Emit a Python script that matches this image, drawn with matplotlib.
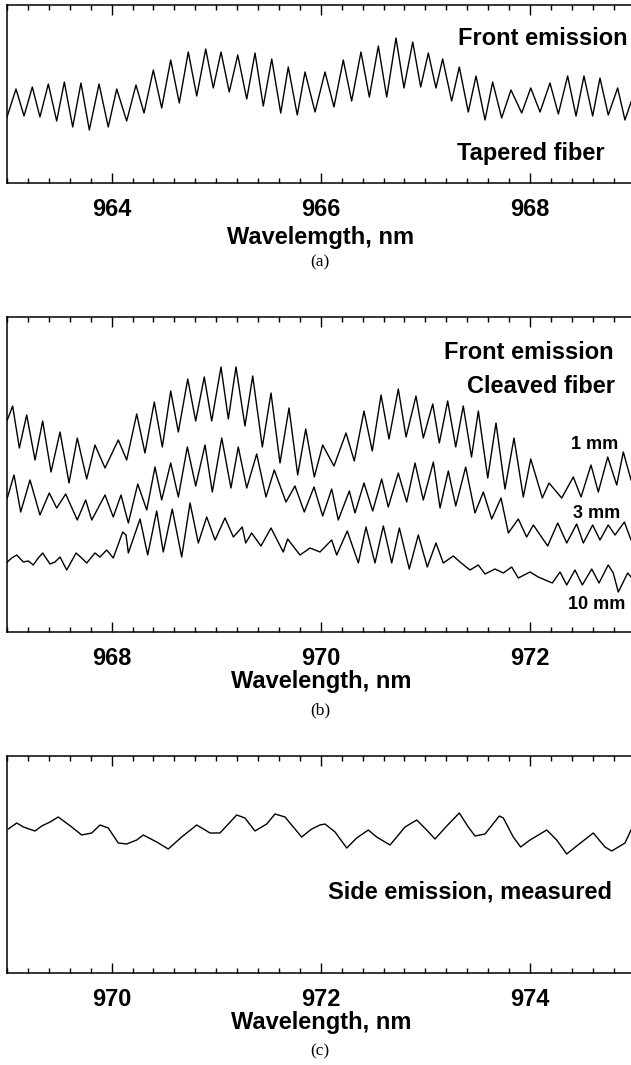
import numpy as np
import matplotlib
matplotlib.use('Agg')
import matplotlib.pyplot as plt
from matplotlib.ticker import MultipleLocator

# (a) front emission, tapered fiber -- wavelength (nm) and intensity (a.u.)
wl_a = [963.000, 963.086, 963.163, 963.242, 963.315, 963.395, 963.475, 963.548, 963.628, 963.707,
        963.787, 963.880, 963.968, 964.049, 964.144, 964.233, 964.310, 964.399, 964.479, 964.565,
        964.647, 964.733, 964.814, 964.900, 964.972, 965.046, 965.125, 965.206, 965.292, 965.371,
        965.450, 965.531, 965.617, 965.689, 965.775, 965.849, 965.945, 966.040, 966.126, 966.215,
        966.295, 966.384, 966.464, 966.550, 966.630, 966.719, 966.795, 966.879, 966.955, 967.028,
        967.101, 967.165, 967.251, 967.324, 967.410, 967.484, 967.570, 967.643, 967.729, 967.818,
        967.921, 968.007, 968.096, 968.191, 968.271, 968.360, 968.440, 968.516, 968.599, 968.669,
        968.748, 968.838, 968.908, 968.966]
int_a = [66, 94, 67, 96, 66, 99, 62, 101, 56, 100, 53, 99, 56, 94, 62, 98, 70, 113, 75, 123,
         80, 131, 87, 134, 95, 131, 91, 128, 84, 130, 77, 124, 70, 116, 68, 111, 71, 111, 76, 123,
         82, 131, 86, 137, 86, 145, 95, 141, 96, 130, 95, 124, 82, 116, 71, 107, 63, 101, 65, 93,
         70, 95, 71, 100, 69, 107, 67, 107, 67, 105, 68, 95, 63, 81]

# (b) front emission, cleaved fiber at 1, 3 and 10 mm
wl_1mm = [967.003, 967.054, 967.118, 967.188, 967.268, 967.341, 967.421, 967.507, 967.593, 967.672,
          967.762, 967.841, 967.937, 968.064, 968.144, 968.240, 968.319, 968.408, 968.485, 968.565,
          968.638, 968.728, 968.804, 968.886, 968.957, 969.046, 969.116, 969.189, 969.275, 969.349,
          969.441, 969.524, 969.610, 969.696, 969.779, 969.856, 969.938, 970.018, 970.126, 970.241,
          970.320, 970.413, 970.492, 970.576, 970.652, 970.741, 970.815, 970.910, 970.980, 971.070,
          971.133, 971.213, 971.290, 971.362, 971.441, 971.506, 971.596, 971.675, 971.761, 971.847,
          971.936, 972.007, 972.118, 972.182, 972.303, 972.414, 972.488, 972.583, 972.653, 972.743,
          972.829, 972.892, 972.966]
int_1mm = [212, 226, 184, 217, 172, 211, 160, 200, 149, 194, 153, 187, 164, 192, 172, 218, 179, 230,
           185, 241, 200, 253, 211, 255, 211, 265, 213, 265, 206, 256, 185, 239, 169, 224, 157, 203,
           155, 187, 166, 199, 171, 221, 181, 237, 193, 243, 195, 236, 194, 228, 189, 231, 185, 226,
           175, 221, 154, 209, 143, 194, 135, 173, 134, 149, 134, 155, 135, 167, 140, 175, 147, 180, 152]

wl_3mm = [967.003, 967.067, 967.131, 967.220, 967.315, 967.404, 967.475, 967.561, 967.672, 967.752,
          967.810, 967.937, 968.016, 968.090, 968.160, 968.250, 968.336, 968.415, 968.479, 968.565,
          968.638, 968.724, 968.804, 968.893, 968.963, 969.053, 969.141, 969.211, 969.292, 969.387,
          969.476, 969.555, 969.667, 969.753, 969.842, 969.935, 970.018, 970.104, 970.167, 970.273,
          970.327, 970.413, 970.496, 970.582, 970.645, 970.741, 970.821, 970.901, 970.980, 971.076,
          971.140, 971.219, 971.290, 971.385, 971.474, 971.554, 971.634, 971.723, 971.793, 971.888,
          971.968, 972.032, 972.169, 972.265, 972.351, 972.446, 972.510, 972.599, 972.669, 972.748,
          972.813, 972.902, 972.966]
int_3mm = [134, 157, 120, 152, 117, 139, 124, 138, 112, 132, 112, 137, 115, 137, 109, 148, 122, 165,
           132, 169, 135, 185, 146, 187, 140, 194, 144, 185, 144, 178, 135, 162, 130, 146, 120, 145,
           116, 143, 112, 141, 119, 149, 121, 153, 125, 159, 130, 169, 132, 170, 124, 161, 126, 165,
           119, 140, 113, 134, 99, 113, 95, 107, 86, 109, 89, 108, 89, 107, 92, 107, 97, 110, 92]

wl_10mm = [967.003, 967.045, 967.093, 967.156, 967.204, 967.251, 967.299, 967.341, 967.411, 967.459,
           967.507, 967.571, 967.660, 967.714, 967.762, 967.841, 967.889, 967.953, 968.016, 968.106,
           968.138, 968.160, 968.272, 968.345, 968.431, 968.494, 968.580, 968.670, 968.750, 968.829,
           968.909, 968.989, 969.084, 969.164, 969.249, 969.282, 969.339, 969.428, 969.524, 969.641,
           969.683, 969.801, 969.897, 969.992, 970.104, 970.152, 970.253, 970.359, 970.432, 970.518,
           970.598, 970.678, 970.751, 970.846, 970.932, 971.018, 971.101, 971.171, 971.267, 971.331,
           971.426, 971.506, 971.570, 971.665, 971.745, 971.825, 971.888, 972.000, 972.079, 972.213,
           972.287, 972.351, 972.430, 972.500, 972.590, 972.660, 972.748, 972.796, 972.844, 972.934,
           972.966]
int_10mm = [70, 74, 77, 70, 71, 67, 74, 79, 68, 70, 75, 62, 79, 74, 69, 79, 75, 82, 74, 100,
            97, 79, 113, 77, 121, 80, 123, 75, 129, 89, 115, 92, 114, 95, 105, 89, 99, 86, 104, 80,
            93, 77, 84, 80, 92, 77, 101, 69, 105, 69, 106, 69, 104, 63, 97, 65, 89, 69, 76, 70,
            62, 67, 58, 63, 59, 65, 54, 60, 55, 49, 60, 47, 62, 47, 63, 49, 67, 59, 40, 59, 55]

# (c) side emission, measured
wl_c = [969.012, 969.093, 969.156, 969.268, 969.332, 969.411, 969.490, 969.619, 969.714, 969.810,
        969.889, 969.968, 970.064, 970.144, 970.240, 970.303, 970.431, 970.542, 970.670, 970.814,
        970.941, 971.036, 971.196, 971.275, 971.371, 971.483, 971.562, 971.658, 971.737, 971.817,
        971.913, 971.992, 972.040, 972.136, 972.248, 972.343, 972.454, 972.534, 972.662, 972.805,
        972.917, 973.012, 973.092, 973.204, 973.324, 973.410, 973.474, 973.570, 973.707, 973.745,
        973.840, 973.911, 974.000, 974.160, 974.255, 974.351, 974.446, 974.605, 974.717, 974.781,
        974.908, 974.966]
int_c = [144, 150, 146, 142, 147, 151, 156, 146, 138, 140, 148, 145, 130, 129, 133, 138, 131, 124,
         136, 148, 140, 140, 158, 155, 142, 149, 159, 156, 146, 136, 144, 148, 149, 141, 125, 135,
         143, 136, 128, 146, 153, 143, 134, 147, 160, 146, 137, 139, 157, 155, 136, 126, 133, 143,
         133, 119, 127, 140, 126, 122, 130, 143]

plt.rcParams['font.family'] = ['Liberation Sans', 'DejaVu Sans']
plt.rcParams['font.weight'] = 'bold'

W, H = 631, 1065
fig = plt.figure(figsize=(W / 100, H / 100), dpi=100)


def make_axes(top_px, bottom_px):
    # axes box in pixels, x span from 7 px to just past the right edge
    left = 7 / W
    width = 627.6 / W
    return fig.add_axes([left, (H - bottom_px) / H, width, (bottom_px - top_px) / H])


def style(ax, xlim, ylim):
    ax.set_xlim(*xlim)
    ax.set_ylim(*ylim)
    ax.xaxis.set_major_locator(MultipleLocator(2))
    ax.xaxis.set_minor_locator(MultipleLocator(0.2))
    ax.tick_params(axis='x', which='both', direction='in', top=True, bottom=True,
                   labelsize=17, pad=10.5, width=1.0)
    ax.tick_params(axis='x', which='major', length=7.5)
    ax.tick_params(axis='x', which='minor', length=3.5)
    ax.set_yticks([])
    for s in ax.spines.values():
        s.set_linewidth(1.1)
    for lab in ax.get_xticklabels():
        lab.set_fontweight('bold')


line_kw = dict(color='black', lw=1.0, solid_joinstyle='round')

# panel (a)
ax1 = make_axes(5, 183)
ax1.plot(wl_a, int_a, **line_kw)
style(ax1, (963, 969), (0, 178))
ax1.set_xlabel('Wavelemgth, nm', fontsize=17, fontweight='bold')
ax1.xaxis.set_label_coords(0.5, -0.244)
ax1.text(0.9895, 0.775, 'Front emission', transform=ax1.transAxes, ha='right', va='baseline',
         fontsize=17, fontweight='bold')
ax1.text(0.7166, 0.129, 'Tapered fiber', transform=ax1.transAxes, ha='left', va='baseline',
         fontsize=17, fontweight='bold')

# panel (b)
ax2 = make_axes(317, 632)
ax2.plot(wl_1mm, int_1mm, **line_kw)
ax2.plot(wl_3mm, int_3mm, **line_kw)
ax2.plot(wl_10mm, int_10mm, **line_kw)
style(ax2, (967, 973), (0, 315))
ax2.set_xlabel('Wavelength, nm', fontsize=17, fontweight='bold')
ax2.xaxis.set_label_coords(0.5, -0.122)
ax2.text(0.966, 0.8667, 'Front emission', transform=ax2.transAxes, ha='right', va='baseline',
         fontsize=17, fontweight='bold')
ax2.text(0.9688, 0.7578, 'Cleaved fiber', transform=ax2.transAxes, ha='right', va='baseline',
         fontsize=17, fontweight='bold')
ax2.text(0.974, 0.58, '1 mm', transform=ax2.transAxes, ha='right', va='baseline',
         fontsize=13, fontweight='bold')
ax2.text(0.9767, 0.363, '3 mm', transform=ax2.transAxes, ha='right', va='baseline',
         fontsize=13, fontweight='bold')
ax2.text(0.9847, 0.072, '10 mm', transform=ax2.transAxes, ha='right', va='baseline',
         fontsize=13, fontweight='bold')

# panel (c)
ax3 = make_axes(756, 973)
ax3.plot(wl_c, int_c, **line_kw)
style(ax3, (969, 975), (0, 217))
ax3.set_xlabel('Wavelength, nm', fontsize=17, fontweight='bold')
ax3.xaxis.set_label_coords(0.5, -0.177)
ax3.text(0.9635, 0.344, 'Side emission, measured', transform=ax3.transAxes, ha='right',
         va='baseline', fontsize=17, fontweight='bold')

# sub-figure captions
for ypx, cap in [(262, '(a)'), (710, '(b)'), (1051, '(c)')]:
    fig.text(320 / W, 1 - ypx / H, cap, ha='center', va='center', fontsize=12.5,
             fontweight='normal', family='Liberation Serif')

fig.savefig('out.png', dpi=100)
